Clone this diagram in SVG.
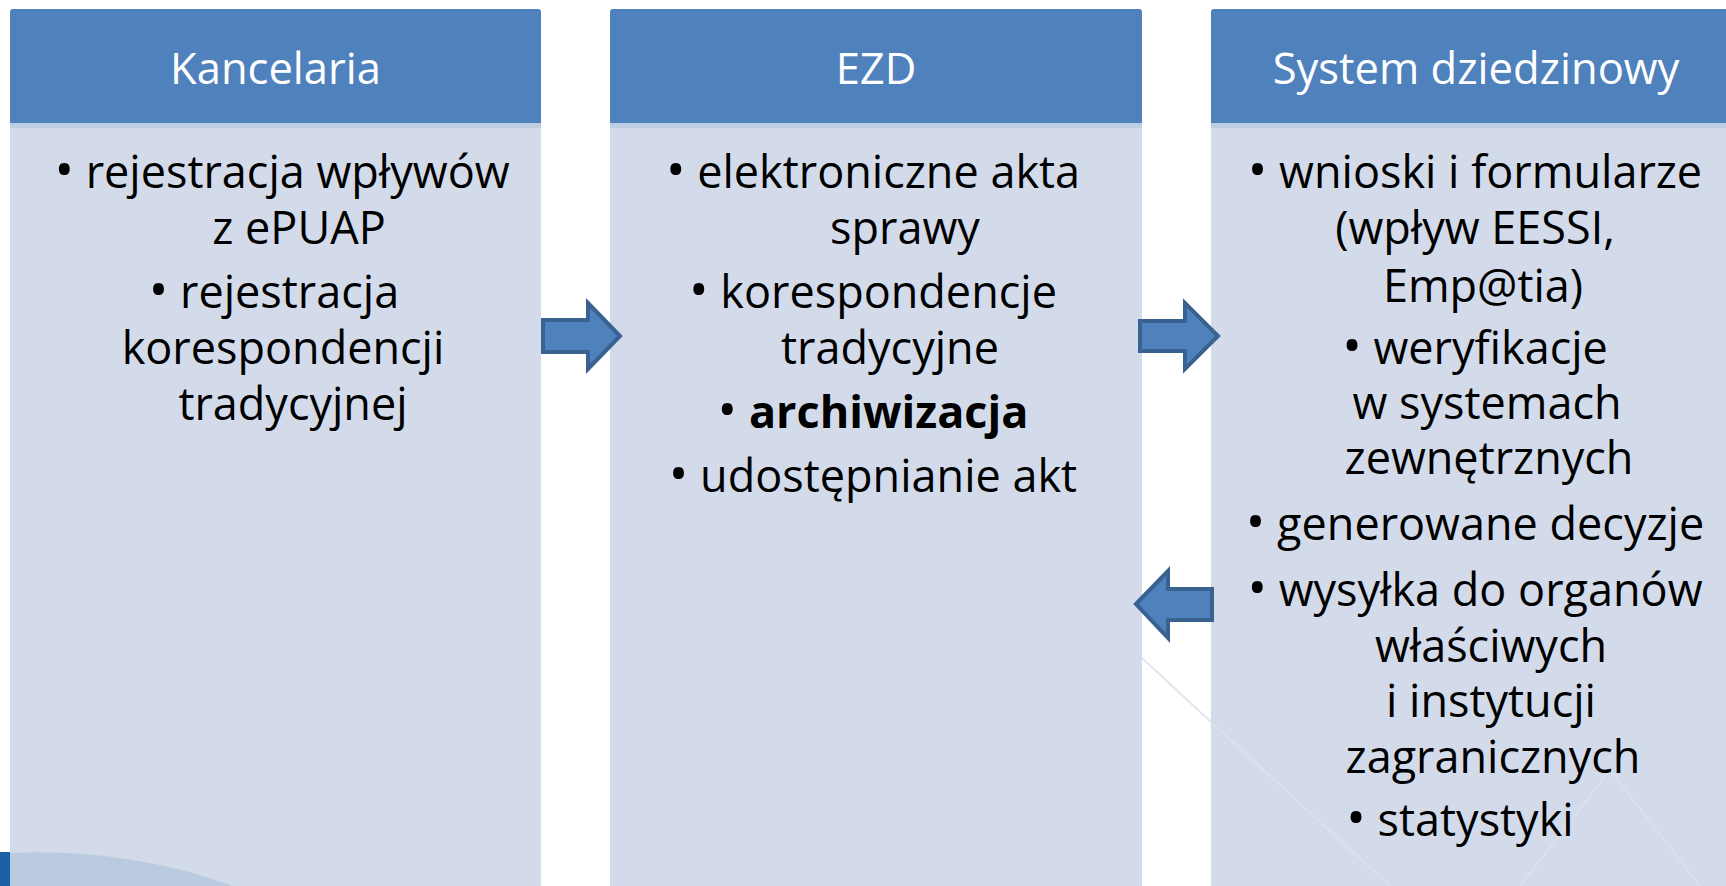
<svg xmlns="http://www.w3.org/2000/svg" width="1726" height="886" viewBox="0 0 1726 886">
<style>
.hdr{fill:#4F81BD}
.hsh{fill:#BFCDE3}
.body{fill:#D3DBEB}
.ht{font-family:"Open Sans","Noto Sans",sans-serif;font-size:43.5px;fill:#FFFFFF;text-anchor:middle}
.t{font-family:"Open Sans","Noto Sans",sans-serif;font-size:45px;fill:#000000;text-anchor:middle}
.b{font-weight:700}
.bu{font-size:52px}
.arr{fill:#4F81BD;stroke:#3A6291;stroke-width:4;stroke-linejoin:miter}
.deco{stroke:#E3E6EC;stroke-width:2;fill:none}
.deco2{stroke:#DCE2EE;stroke-width:1.5;fill:none}
</style>
<rect x="0" y="0" width="1726" height="886" fill="#FFFFFF"/>
<g id="background">
<line class="deco" x1="1142" y1="658" x2="1211" y2="722"/>
<rect x="0" y="852" width="10" height="34" fill="#1A62A4"/>
</g>
<g id="kancelaria">
<rect class="body" x="10" y="123" width="531" height="763"/>
<path d="M10 853 C 80 849, 165 860, 232 886 L10 886 Z" fill="#BACBE0"/>
<rect class="hdr" x="10" y="9" width="531" height="116" rx="3"/>
<rect class="hsh" x="10" y="123" width="531" height="5"/>
<text class="ht" x="275.5" y="84">Kancelaria</text>
<text class="t" x="282" y="188"><tspan class="bu">•</tspan> rejestracja wpływów</text>
<text class="t" x="299" y="244">z ePUAP</text>
<text class="t" x="274" y="308"><tspan class="bu">•</tspan> rejestracja</text>
<text class="t" x="283" y="364">korespondencji</text>
<text class="t" x="293" y="420">tradycyjnej</text>
</g>
<g id="ezd">
<rect class="body" x="610" y="123" width="532" height="763"/>
<rect class="hdr" x="610" y="9" width="532" height="116" rx="3"/>
<rect class="hsh" x="610" y="123" width="532" height="5"/>
<text class="ht" x="876" y="84">EZD</text>
<text class="t" x="873" y="188"><tspan class="bu">•</tspan> elektroniczne akta</text>
<text class="t" x="905" y="244">sprawy</text>
<text class="t" x="873" y="308"><tspan class="bu">•</tspan> korespondencje</text>
<text class="t" x="890" y="364">tradycyjne</text>
<text class="t" x="873" y="428"><tspan class="bu">•</tspan> <tspan class="b">archiwizacja</tspan></text>
<text class="t" x="873" y="492"><tspan class="bu">•</tspan> udostępnianie akt</text>
</g>
<g id="system-dziedzinowy">
<rect class="body" x="1211" y="123" width="531" height="763"/>
<line class="deco2" x1="1211" y1="722" x2="1390" y2="886"/>
<line class="deco2" x1="1520" y1="886" x2="1610" y2="770"/>
<line class="deco2" x1="1610" y1="770" x2="1700" y2="886"/>
<rect class="hdr" x="1211" y="9" width="531" height="116" rx="3"/>
<rect class="hsh" x="1211" y="123" width="531" height="5"/>
<text class="ht" x="1476" y="84">System dziedzinowy</text>
<text class="t" x="1475" y="188"><tspan class="bu">•</tspan> wnioski i formularze</text>
<text class="t" x="1475" y="244">(wpływ EESSI,</text>
<text class="t" x="1483" y="302">Emp@tia)</text>
<text class="t" x="1475" y="364"><tspan class="bu">•</tspan> weryfikacje</text>
<text class="t" x="1487" y="419">w systemach</text>
<text class="t" x="1489" y="474">zewnętrznych</text>
<text class="t" x="1475" y="540"><tspan class="bu">•</tspan> generowane decyzje</text>
<text class="t" x="1475" y="606"><tspan class="bu">•</tspan> wysyłka do organów</text>
<text class="t" x="1491" y="662">właściwych</text>
<text class="t" x="1491" y="717">i instytucji</text>
<text class="t" x="1493" y="773">zagranicznych</text>
<text class="t" x="1460" y="836"><tspan class="bu">•</tspan> statystyki</text>
</g>
<g id="connectors">
<polygon class="arr" points="543,320 588,320 588,303 620,336 588,369 588,352 543,352"/>
<polygon class="arr" points="1140,321 1185,321 1185,303 1218,336 1185,369 1185,351 1140,351"/>
<polygon class="arr" points="1136,604 1168,571 1168,589 1212,589 1212,620 1168,620 1168,638"/>
</g>
</svg>
